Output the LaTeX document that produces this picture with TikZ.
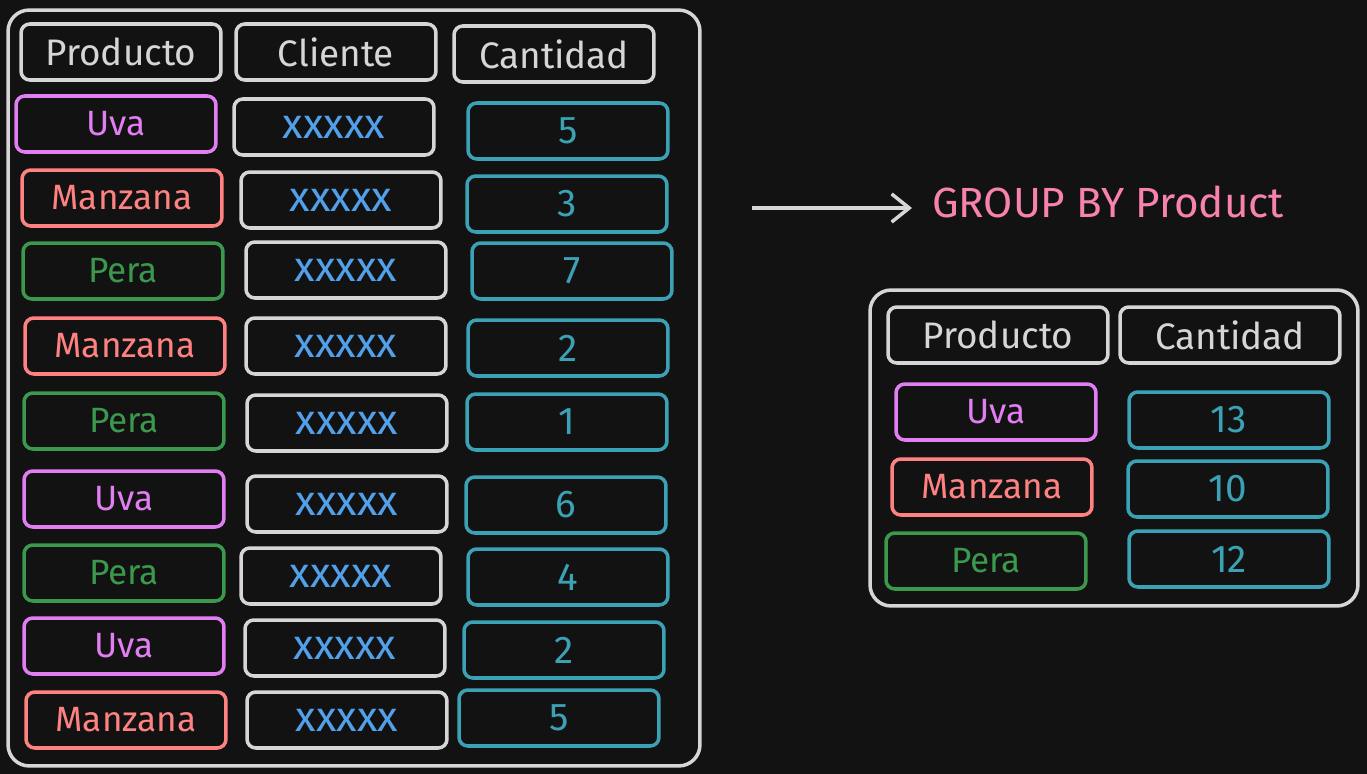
\documentclass[tikz,border=0pt]{standalone}
\usepackage{fontspec}
\setmainfont{Fira Sans}
\usepackage{tikz}
\usetikzlibrary{arrows.meta,positioning}
\definecolor{gbBack}{HTML}{121212}
\definecolor{gbLine}{HTML}{D6D6D6}
\definecolor{gbGrape}{HTML}{E07EF2}
\definecolor{gbApple}{HTML}{FF8282}
\definecolor{gbPear}{HTML}{3A994C}
\definecolor{gbQty}{HTML}{3BA2B6}
\definecolor{gbCli}{HTML}{52A0EA}
\definecolor{gbPink}{HTML}{F782AE}

\begin{document}
\begin{tikzpicture}[x=0.02cm,y=-0.02cm,
  c/.style={draw,rounded corners=5pt,line width=2pt,minimum width=4cm,
            minimum height=1.12cm,inner sep=0pt,font=\fontsize{20}{24}\selectfont},
  h/.style={c,draw=gbLine,text=gbLine,font=\fontsize{21}{25}\selectfont},
  uva/.style={c,draw=gbGrape,text=gbGrape},
  man/.style={c,draw=gbApple,text=gbApple},
  per/.style={c,draw=gbPear,text=gbPear},
  cli/.style={c,draw=gbLine,text=gbCli,font=\fontsize{24}{28}\selectfont},
  qty/.style={c,draw=gbQty,text=gbQty,font=\fontsize{22}{26}\selectfont},
  frame/.style={draw=gbLine,rounded corners=12pt,line width=2pt,inner sep=0pt},
  a/.style={-{Straight Barb[length=10pt,width=16pt,line width=2pt]},gbLine,line width=2pt}]
\fill[gbBack] (0,0) rectangle (1367,774);
\useasboundingbox (0,0) rectangle (1367,774);
% left table
\node[frame,minimum width=13.84cm,minimum height=15.12cm] (src) at (354,388) {};
\node[h] (hprod) at (121,52) {Producto};
\node[h] (hcli) at (336,52) {Cliente};
\node[h] (hcant) at (554,54) {Cantidad};
\node[uva] (p1) at (116,124) {Uva};
\node[cli] (c1) at (334,127) {xxxxx};
\node[qty] (q1) at (568,131) {5};
\node[man] (p2) at (122,198) {Manzana};
\node[cli] (c2) at (341,200) {xxxxx};
\node[qty] (q2) at (567,204) {3};
\node[per] (p3) at (123,271) {Pera};
\node[cli] (c3) at (346,270) {xxxxx};
\node[qty] (q3) at (572,271) {7};
\node[man] (p4) at (125,346) {Manzana};
\node[cli] (c4) at (346,346) {xxxxx};
\node[qty] (q4) at (568,348) {2};
\node[per] (p5) at (124,421) {Pera};
\node[cli] (c5) at (347,423) {xxxxx};
\node[qty] (q5) at (567,422) {1};
\node[uva] (p6) at (124,499) {Uva};
\node[cli] (c6) at (347,504) {xxxxx};
\node[qty] (q6) at (566,505) {6};
\node[per] (p7) at (124,573) {Pera};
\node[cli] (c7) at (341,576) {xxxxx};
\node[qty] (q7) at (568,577) {4};
\node[uva] (p8) at (124,646) {Uva};
\node[cli] (c8) at (345,648) {xxxxx};
\node[qty] (q8) at (564,650) {2};
\node[man] (p9) at (126,720) {Manzana};
\node[cli] (c9) at (347,720) {xxxxx};
\node[qty] (q9) at (559,718) {5};
% arrow and label
\coordinate (from) at (752,208);
\coordinate (to) at (912,208);
\node[text=gbPink,font=\fontsize{24}{28}\selectfont,inner sep=0pt] (gb) at (1108,202) {GROUP BY Product};
\draw[a] (from) -- (to);
% grouped table
\node[frame,minimum width=9.76cm,minimum height=6.32cm] (res) at (1114,448) {};
\node[h,minimum width=4.4cm] (rprod) at (998,335) {Producto};
\node[h,minimum width=4.4cm] (rcant) at (1230,335) {Cantidad};
\node[uva] (r1) at (996,412) {Uva};
\node[qty] (s1) at (1229,420) {13};
\node[man] (r2) at (992,487) {Manzana};
\node[qty] (s2) at (1228,489) {10};
\node[per] (r3) at (986,561) {Pera};
\node[qty] (s3) at (1229,559) {12};
\end{tikzpicture}
\end{document}
